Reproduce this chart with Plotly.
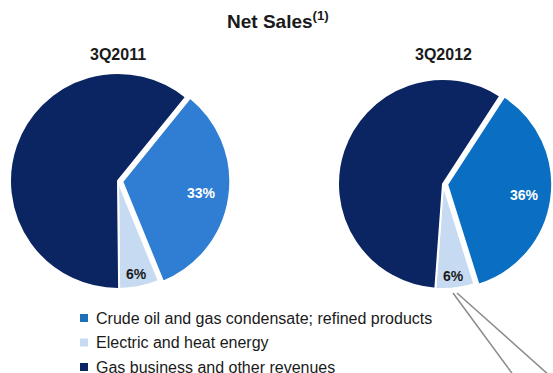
import math
import plotly.graph_objects as go

categories = ["Crude oil and gas condensate; refined products",
              "Electric and heat energy",
              "Gas business and other revenues"]
periods = ["3Q2011", "3Q2012"]
values_2011 = [33, 6, 61]
values_2012 = [36, 6, 58]
colors_2011 = ["#2F7ED3", "#C6DAF1", "#0B2462"]
colors_2012 = ["#0A6FC2", "#C6DAF1", "#0B2462"]
legend_colors = ["#1F6EB8", "#C6DAF1", "#0B2462"]

W, H = 553, 373
FONT = "Liberation Sans, Arial, sans-serif"

def px(x):
    return x / W

def py(y):
    return 1 - y / H

fig = go.Figure()
ann = []

def add_pie(vals, cols, cx, cy, r, rot):
    pull = 0.04
    half = r * (1 + pull)
    fig.add_trace(go.Pie(
        labels=categories, values=vals, sort=False, direction="clockwise",
        rotation=rot, domain=dict(x=[px(cx - half), px(cx + half)], y=[py(cy + half), py(cy - half)]),
        marker=dict(colors=cols, line=dict(color="white", width=2)),
        pull=[pull, 0.0, 0.0],
        textinfo="none",
        showlegend=False, hoverinfo="label+percent",
    ))
    # slice labels positioned from the data (mid-angle of each slice)
    total = sum(vals)
    start = rot
    frac = [0.78, 0.88]
    tcol = ["white", "#1a1a1a"]
    for i in range(2):
        span = vals[i] / total * 360
        mid = math.radians(start + span / 2)
        rr = r * frac[i]
        ann.append(dict(text="<b>%d%%</b>" % vals[i],
                        x=px(cx + rr * math.sin(mid)), y=py(cy - rr * math.cos(mid)),
                        xref="paper", yref="paper", showarrow=False,
                        font=dict(family=FONT, size=14, color=tcol[i]),
                        xanchor="center", yanchor="middle"))
        start += span

add_pie(values_2011, colors_2011, 118, 181, 108, 39)
add_pie(values_2012, colors_2012, 443, 184, 105, 33)

ann.append(dict(text="<b>Net Sales</b><sup><b>(1)</b></sup>", x=px(278), y=py(20), xref="paper", yref="paper",
                showarrow=False, font=dict(family=FONT, size=19, color="#1a1a1a"), xanchor="center", yanchor="middle"))
for name, cx in zip(periods, [118, 443]):
    ann.append(dict(text="<b>" + name + "</b>", x=px(cx), y=py(55), xref="paper", yref="paper",
                    showarrow=False, font=dict(family=FONT, size=16, color="#1a1a1a"),
                    xanchor="center", yanchor="middle"))

shapes = []
for i, (name, col) in enumerate(zip(categories, legend_colors)):
    yc = 318 + i * 24.5
    shapes.append(dict(type="rect", xref="paper", yref="paper",
                       x0=px(80), x1=px(88), y0=py(yc + 4), y1=py(yc - 4),
                       fillcolor=col, line=dict(width=0)))
    ann.append(dict(text=name, x=px(94), y=py(yc), xref="paper", yref="paper",
                    showarrow=False, font=dict(family=FONT, size=16, color="#1a1a1a"),
                    xanchor="left", yanchor="middle"))

for (x0, y0, x1, y1) in [(453, 293, 514, 376), (457, 293, 550, 376)]:
    shapes.append(dict(type="line", xref="paper", yref="paper",
                       x0=px(x0), y0=py(y0), x1=px(x1), y1=py(y1),
                       line=dict(color="#8a8a8a", width=1.5)))

fig.update_layout(width=W, height=H, margin=dict(l=0, r=0, t=0, b=0),
                  paper_bgcolor="white", plot_bgcolor="white",
                  annotations=ann, shapes=shapes)
fig.write_html("out.html")
